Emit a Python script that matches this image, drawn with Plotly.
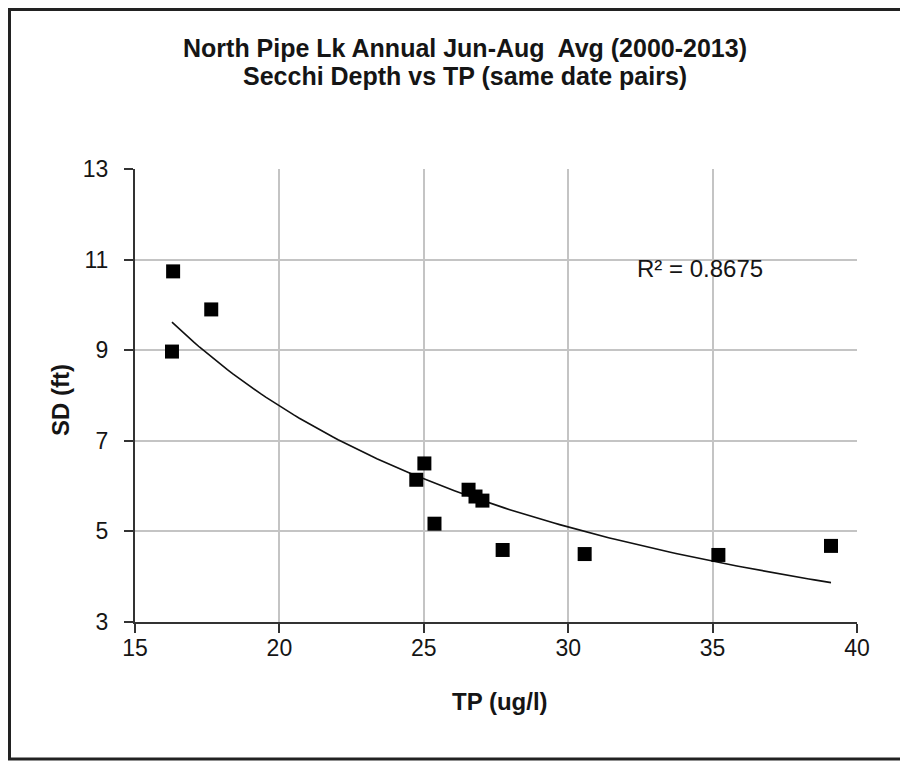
import numpy as np
import plotly.graph_objects as go

# ---- data ----
tp_ugl = [16.32, 16.28, 17.64, 24.74, 25.02, 25.37, 26.55, 26.79, 27.03, 27.73, 30.57, 35.2, 39.1]
sd_ft = [10.74, 8.97, 9.90, 6.14, 6.50, 5.17, 5.92, 5.77, 5.68, 4.59, 4.50, 4.48, 4.68]
x_ticks = [15, 20, 25, 30, 35, 40]
y_ticks = [3, 5, 7, 9, 11, 13]
title_lines = ["North Pipe Lk Annual Jun-Aug  Avg (2000-2013)", "Secchi Depth vs TP (same date pairs)"]
r2_label = "R² = 0.8675"

# power trendline fitted from the data (as Excel does)
b, lna = np.polyfit(np.log(tp_ugl), np.log(sd_ft), 1)
fit_x = np.linspace(min(tp_ugl), max(tp_ugl), 120)
fit_y = np.exp(lna) * fit_x ** b

OFF = 8  # page body margin; positions below are in page pixels
W, H = 908 - OFF, 762 - OFF
L, R, T, B = 135, 857, 169, 622  # plot area in page pixels


def px(xp):
    return (xp - L) / (R - L)


def py(yp):
    return (B - yp) / (B - T)


FONT = "Liberation Sans, Arial, sans-serif"
TXT = "#151515"
fig = go.Figure()
fig.add_trace(go.Scatter(x=fit_x, y=fit_y, mode="lines",
                         line=dict(color="#111111", width=1.6), hoverinfo="skip", showlegend=False))
fig.add_trace(go.Scatter(x=tp_ugl, y=sd_ft, mode="markers",
                         marker=dict(symbol="square", size=14, color="#000000"), showlegend=False))

axis_common = dict(showgrid=True, gridcolor="#c4c4c4", gridwidth=1.5, zeroline=False,
                   showline=True, linecolor="#333333", linewidth=2,
                   ticks="outside", ticklen=9, tickwidth=1.5, tickcolor="#333333",
                   tickfont=dict(family=FONT, size=23, color=TXT))
fig.update_xaxes(range=[15, 40], tickvals=x_ticks, ticktext=[str(v) for v in x_ticks],
                 ticklabelstandoff=-5, **axis_common)
fig.update_yaxes(range=[3, 13], tickvals=y_ticks, ticktext=[str(v) for v in y_ticks],
                 ticklabelstandoff=11, **axis_common)

fig.update_layout(
    width=W, height=H,
    margin=dict(l=L - OFF, r=W - (R - OFF), t=T - OFF, b=H - (B - OFF), pad=0),
    paper_bgcolor="white", plot_bgcolor="white",
    font=dict(family=FONT),
)

# chart title (two lines)
for line_text, yc in zip(title_lines, [48, 76]):
    fig.add_annotation(text="<b>" + line_text + "</b>", xref="paper", yref="paper",
                       x=px(465), y=py(yc), xanchor="center", yanchor="middle",
                       showarrow=False, font=dict(family=FONT, size=25, color=TXT))

# axis titles
fig.add_annotation(text="<b>TP (ug/l)</b>", xref="paper", yref="paper", x=px(500), y=py(701),
                   xanchor="center", yanchor="middle",
                   showarrow=False, font=dict(family=FONT, size=24, color=TXT))
fig.add_annotation(text="<b>SD (ft)</b>", xref="paper", yref="paper", x=px(60), y=py(400),
                   xanchor="center", yanchor="middle",
                   showarrow=False, textangle=-90, font=dict(family=FONT, size=24, color=TXT))
# R squared label
fig.add_annotation(text=r2_label, xref="paper", yref="paper", x=px(635), y=py(268),
                   xanchor="left", yanchor="middle", showarrow=False,
                   font=dict(family=FONT, size=24, color=TXT))

# outer frame
fig.add_shape(type="rect", xref="paper", yref="paper", x0=px(OFF + 1.5), x1=px(904.5),
              y0=py(759), y1=py(OFF + 1.5),
              line=dict(color="#222222", width=3), fillcolor="rgba(0,0,0,0)")

fig.write_html("out.html")
